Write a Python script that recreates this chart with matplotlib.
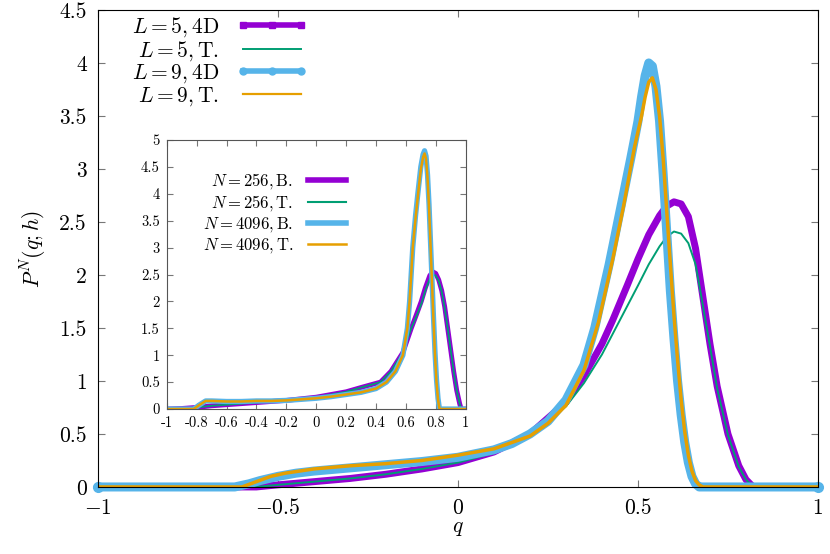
import matplotlib
matplotlib.use("Agg")
import matplotlib.pyplot as plt
from matplotlib.lines import Line2D
from matplotlib.ticker import FuncFormatter, MultipleLocator

plt.rcParams['font.family'] = 'serif'
plt.rcParams['font.serif'] = ['cmr10', 'DejaVu Serif']
plt.rcParams['mathtext.fontset'] = 'cm'
plt.rcParams['axes.formatter.use_mathtext'] = True

PURPLE = '#9400d3'
GREEN = '#009e73'
BLUE = '#56b4e9'
ORANGE = '#e69f00'

# main panel: P^N(q;h) for L = 5 and L = 9
q_l5_4d = [-1, -0.56, -0.5, -0.4, -0.3, -0.2, -0.1, 0, 0.1, 0.2, 0.3, 0.35, 0.4, 0.43,
           0.47, 0.5, 0.53, 0.56, 0.58, 0.6, 0.62, 0.64, 0.66, 0.68, 0.7, 0.72, 0.75,
           0.78, 0.8, 0.82, 1]
p_l5_4d = [0, 0, 0.02, 0.05, 0.08, 0.12, 0.17, 0.23, 0.33, 0.5, 0.8, 1.05, 1.35, 1.575,
           1.9, 2.15, 2.38, 2.56, 2.65, 2.69, 2.67, 2.55, 2.25, 1.8, 1.35, 0.95, 0.5,
           0.2, 0.07, 0, 0]

q_l5_t = [-1, -0.56, -0.5, -0.4, -0.3, -0.2, -0.1, 0, 0.1, 0.2, 0.3, 0.35, 0.4, 0.45,
          0.5, 0.53, 0.56, 0.58, 0.6, 0.62, 0.64, 0.66, 0.68, 0.7, 0.72, 0.75, 0.78,
          0.8, 0.82, 1]
p_l5_t = [0, 0, 0.02, 0.05, 0.08, 0.12, 0.17, 0.23, 0.32, 0.48, 0.76, 0.98, 1.25, 1.575,
          1.9, 2.1, 2.27, 2.36, 2.41, 2.39, 2.3, 2.1, 1.72, 1.33, 0.93, 0.49, 0.19,
          0.07, 0, 0]

q_l9_4d = [-1, -0.62, -0.58, -0.55, -0.5, -0.45, -0.4, -0.3, -0.2, -0.1, 0, 0.1, 0.15, 0.2,
           0.25, 0.3, 0.35, 0.38, 0.42, 0.45, 0.48, 0.5, 0.51, 0.52, 0.53, 0.54, 0.55,
           0.56, 0.57, 0.58, 0.59, 0.6, 0.61, 0.62, 0.63, 0.64, 0.65, 0.66, 0.67, 1]
p_l9_4d = [0, 0, 0.03, 0.06, 0.1, 0.13, 0.15, 0.18, 0.21, 0.24, 0.28, 0.35, 0.41, 0.5,
           0.62, 0.82, 1.15, 1.5, 2.1, 2.6, 3.1, 3.45, 3.68, 3.88, 4.0, 3.97, 3.78,
           3.45, 2.95, 2.4, 1.85, 1.4, 1.0, 0.68, 0.42, 0.23, 0.1, 0.03, 0, 0]

q_l9_t = [-1, -0.6, -0.56, -0.52, -0.48, -0.4, -0.3, -0.2, -0.1, 0, 0.1, 0.2, 0.25, 0.3,
          0.35, 0.39, 0.43, 0.46, 0.49, 0.51, 0.52, 0.53, 0.54, 0.55, 0.56, 0.57, 0.58,
          0.59, 0.6, 0.61, 0.62, 0.63, 0.64, 0.65, 0.66, 0.67, 0.68, 1]
p_l9_t = [0, 0, 0.05, 0.1, 0.13, 0.17, 0.2, 0.22, 0.25, 0.3, 0.36, 0.48, 0.6, 0.77,
          1.1, 1.55, 2.15, 2.65, 3.2, 3.5, 3.68, 3.82, 3.86, 3.75, 3.5, 3.1, 2.6,
          2.1, 1.62, 1.2, 0.82, 0.52, 0.3, 0.15, 0.06, 0.02, 0, 0]

# inset: N = 256 and N = 4096
x_256 = [-1, -0.9, -0.8, -0.7, -0.6, -0.5, -0.4, -0.3, -0.2, -0.1, 0, 0.1, 0.2, 0.3,
         0.43, 0.5, 0.58, 0.636, 0.67, 0.703, 0.73, 0.76, 0.78, 0.8, 0.82, 0.84, 0.86,
         0.88, 0.9, 0.92, 0.94, 0.96, 0.97, 1]
y_256_b = [0, 0.01, 0.03, 0.06, 0.08, 0.1, 0.12, 0.14, 0.16, 0.19, 0.22, 0.27, 0.32, 0.4,
           0.5, 0.7, 1.05, 1.5, 1.75, 2.0, 2.25, 2.48, 2.55, 2.52, 2.4, 2.2, 1.9,
           1.5, 1.1, 0.7, 0.35, 0.1, 0, 0]
y_256_t = [0, 0.01, 0.03, 0.06, 0.08, 0.1, 0.12, 0.14, 0.16, 0.19, 0.22, 0.27, 0.32, 0.4,
           0.5, 0.7, 1.05, 1.5, 1.72, 1.95, 2.2, 2.42, 2.5, 2.48, 2.38, 2.18, 1.88,
           1.5, 1.1, 0.7, 0.35, 0.1, 0, 0]

x_4096 = [-1, -0.82, -0.78, -0.74, -0.7, -0.6, -0.5, -0.4, -0.3, -0.2, -0.1, 0, 0.1, 0.2,
          0.3, 0.4, 0.47, 0.53, 0.58, 0.61, 0.625, 0.646, 0.665, 0.68, 0.7, 0.715, 0.725,
          0.735, 0.745, 0.755, 0.765, 0.775, 0.785, 0.795, 0.805, 0.815, 0.825, 1]
y_4096_b = [0, 0, 0.08, 0.15, 0.15, 0.14, 0.14, 0.15, 0.15, 0.16, 0.18, 0.2, 0.23, 0.27,
            0.31, 0.38, 0.5, 0.7, 1.0, 1.5, 2.0, 3.0, 3.6, 4.0, 4.5, 4.73, 4.8,
            4.7, 4.35, 3.8, 3.1, 2.4, 1.7, 1.05, 0.55, 0.2, 0, 0]
y_4096_t = [0, 0, 0.08, 0.15, 0.15, 0.14, 0.14, 0.15, 0.15, 0.16, 0.18, 0.2, 0.23, 0.27,
            0.31, 0.38, 0.5, 0.7, 1.0, 1.5, 2.0, 3.0, 3.55, 3.95, 4.45, 4.68, 4.75,
            4.65, 4.3, 3.75, 3.05, 2.35, 1.65, 1.0, 0.5, 0.18, 0, 0]

fig = plt.figure(figsize=(8.3, 5.54), dpi=100)
ax = fig.add_axes([0.118, 0.121, 0.8675, 0.861])

ax.plot(q_l5_4d, p_l5_4d, color=PURPLE, lw=5, solid_capstyle='round',
        solid_joinstyle='round', marker='s', ms=5, markevery=[0, -1], clip_on=False)
ax.plot(q_l5_t, p_l5_t, color=GREEN, lw=1.4)
ax.plot(q_l9_4d, p_l9_4d, color=BLUE, lw=6.5, marker='o', ms=7, solid_capstyle='round',
        solid_joinstyle='round', markevery=[0, -1], clip_on=False)
ax.plot(q_l9_t, p_l9_t, color=ORANGE, lw=2.5, solid_joinstyle='round')

main_fmt = FuncFormatter(lambda v, p: ('$-%g$' % abs(v)) if v < 0 else '%g' % round(v, 3))
ax.set_xlim(-1, 1)
ax.set_ylim(0, 4.5)
ax.xaxis.set_major_locator(MultipleLocator(0.5))
ax.yaxis.set_major_locator(MultipleLocator(0.5))
ax.xaxis.set_major_formatter(main_fmt)
ax.yaxis.set_major_formatter(main_fmt)
ax.tick_params(direction='in', top=True, right=True, length=5, labelsize=15.5, pad=8,
               color='#777777')
ax.set_xlabel('$q$', fontsize=15.5, labelpad=0)
ax.set_ylabel('$P^N(q;h)$', fontsize=15.5, labelpad=8)

handles = [
    Line2D([], [], color=PURPLE, lw=4, marker='s', ms=4),
    Line2D([], [], color=GREEN, lw=1.4),
    Line2D([], [], color=BLUE, lw=4, marker='o', ms=5),
    Line2D([], [], color=ORANGE, lw=1.6),
]
labels = [r'$L=5, 4\mathrm{D}$', r'$L=5, \mathrm{T.}$',
          r'$L=9, 4\mathrm{D}$', r'$L=9, \mathrm{T.}$']
ax.legend(handles, labels, loc='upper left', bbox_to_anchor=(0.02, 1.03),
          frameon=False, markerfirst=False, fontsize=15.5, numpoints=3,
          handlelength=3.3, labelspacing=0.0, handletextpad=0.8)

ins = fig.add_axes([0.201, 0.2617, 0.360, 0.4856])
ins.plot(x_256, y_256_b, color=PURPLE, lw=3.5)
ins.plot(x_256, y_256_t, color=GREEN, lw=1.3)
ins.plot(x_4096, y_4096_b, color=BLUE, lw=3.8)
ins.plot(x_4096, y_4096_t, color=ORANGE, lw=1.8)
ins.set_xlim(-1, 1)
ins.set_ylim(0, 5)
ins.xaxis.set_major_locator(MultipleLocator(0.2))
ins.yaxis.set_major_locator(MultipleLocator(0.5))
fmt = FuncFormatter(lambda v, p: '%g' % round(v, 3))
ins.xaxis.set_major_formatter(fmt)
ins.yaxis.set_major_formatter(fmt)
ins.tick_params(direction='in', top=True, right=True, length=4, labelsize=10.5, pad=5,
                color='#777777')
for s in ins.spines.values():
    s.set_color('#555555')

ins_labels = [r'$N=256, \mathrm{B.}$', r'$N=256, \mathrm{T.}$',
              r'$N=4096, \mathrm{B.}$', r'$N=4096, \mathrm{T.}$']
ins_handles = [Line2D([], [], color=PURPLE, lw=4),
               Line2D([], [], color=GREEN, lw=1.5),
               Line2D([], [], color=BLUE, lw=4),
               Line2D([], [], color=ORANGE, lw=1.8)]
ins.legend(ins_handles, ins_labels, loc='upper left', bbox_to_anchor=(0.07, 0.94),
           frameon=False, markerfirst=False, fontsize=12, handlelength=2.3,
           labelspacing=0.12, handletextpad=0.9)

fig.savefig('out.png', dpi=100)
